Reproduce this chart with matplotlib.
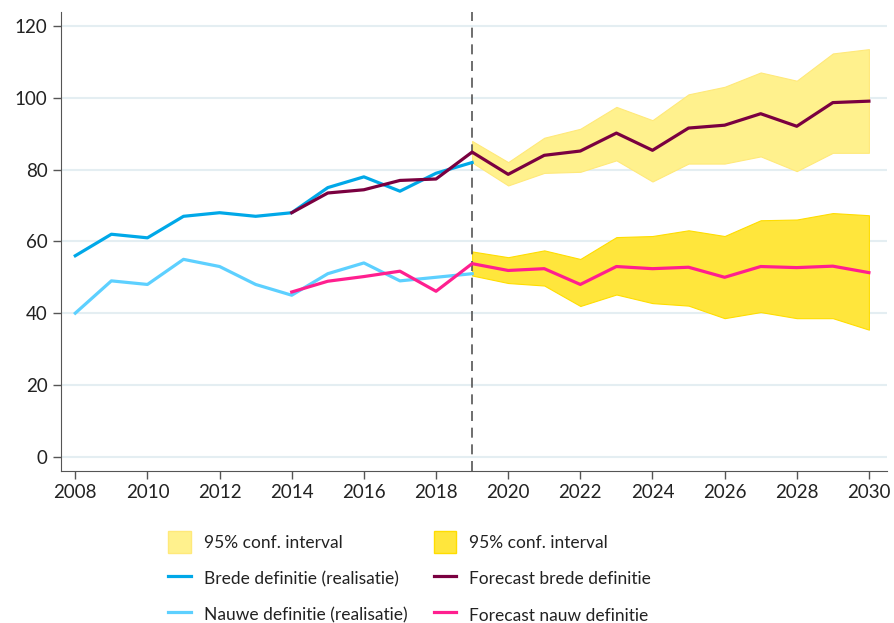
import matplotlib.pyplot as plt
from matplotlib.patches import Patch
from matplotlib.lines import Line2D

plt.rcParams['font.family'] = ['Lato', 'DejaVu Sans']

# Realisatie
jaren_real = list(range(2008, 2020))
brede_real = [56, 62, 61, 67, 68, 67, 68, 75, 78, 74, 79, 82]
nauw_real = [40, 49, 48, 55, 53, 48, 45, 51, 54, 49, 50, 51]

# Forecast
jaren_fc = list(range(2014, 2031))
brede_fc = [68, 73.5, 74.4, 77, 77.4, 84.9, 78.7, 84, 85.2, 90.2, 85.4, 91.6, 92.4, 95.6, 92.1, 98.7, 99.1]
nauw_fc = [45.9, 48.9, 50.2, 51.7, 46.1, 53.8, 51.9, 52.4, 48, 53, 52.4, 52.8, 50, 53, 52.7, 53.1, 51.3]

# 95% betrouwbaarheidsintervallen
jaren_ci = list(range(2019, 2031))
brede_hoog = [88, 82.1, 88.9, 91.4, 97.5, 93.8, 101, 103.1, 107.1, 104.8, 112.4, 113.6]
brede_laag = [82, 75.6, 79.1, 79.4, 82.6, 76.7, 81.7, 81.7, 83.7, 79.6, 84.7, 84.7]
nauw_hoog = [57.2, 55.6, 57.5, 55.1, 61.2, 61.5, 63.1, 61.5, 65.9, 66.1, 67.9, 67.3]
nauw_laag = [50.5, 48.4, 47.7, 42, 45.2, 42.8, 42.1, 38.6, 40.3, 38.6, 38.6, 35.4]

c_blauw = '#00a8e8'
c_lichtblauw = '#5dd0ff'
c_bordeaux = '#7a0040'
c_roze = '#ff1f8f'
c_geel_licht = '#fff18d'
c_geel = '#ffe63c'

fig = plt.figure(figsize=(8.95, 6.23), dpi=100)
ax = fig.add_axes([0.068, 0.244, 0.923, 0.737])

ax.fill_between(jaren_ci, brede_laag, brede_hoog, color=c_geel_licht, lw=0.8, edgecolor='#ffe97a', zorder=1)
ax.fill_between(jaren_ci, nauw_laag, nauw_hoog, color=c_geel, lw=0.8, edgecolor='#ffdd00', zorder=1)

ax.plot(jaren_real, brede_real, color=c_blauw, lw=2.3, zorder=3)
ax.plot(jaren_real, nauw_real, color=c_lichtblauw, lw=2.3, zorder=3)
ax.plot(jaren_fc, brede_fc, color=c_bordeaux, lw=2.3, zorder=4)
ax.plot(jaren_fc, nauw_fc, color=c_roze, lw=2.3, zorder=4)

ax.axvline(2019, color='#555555', lw=1.2, ls=(0, (6, 4)), zorder=2)

ax.set_xlim(2007.6, 2030.5)
ax.set_ylim(-4, 124)
ax.set_xticks(range(2008, 2031, 2))
ax.set_yticks(range(0, 121, 20))
ax.yaxis.grid(True, color='#e4eef2', lw=1.5)
ax.set_axisbelow(True)
for s in ['top', 'right']:
    ax.spines[s].set_visible(False)
for s in ['left', 'bottom']:
    ax.spines[s].set_color('#555555')
ax.tick_params(colors='#555555', labelcolor='#222222', labelsize=13.5, length=6, width=1)

handles = [
    Patch(facecolor=c_geel_licht, edgecolor='#ffe97a'),
    Line2D([], [], color=c_blauw, lw=2.3),
    Line2D([], [], color=c_lichtblauw, lw=2.3),
    Patch(facecolor=c_geel, edgecolor='#ffdd00'),
    Line2D([], [], color=c_bordeaux, lw=2.3),
    Line2D([], [], color=c_roze, lw=2.3),
]
labels = ['95% conf. interval', 'Brede definitie (realisatie)', 'Nauwe definitie (realisatie)',
          '95% conf. interval', 'Forecast brede definitie', 'Forecast nauw definitie']
fig.legend(handles, labels, ncol=2, loc='upper left', bbox_to_anchor=(0.188, 0.148),
           frameon=False, fontsize=12.5, handlelength=1.3, handleheight=1.6,
           labelspacing=0.82, columnspacing=1.5, handletextpad=0.75,
           labelcolor='#222222', borderaxespad=0, borderpad=0)

fig.savefig('out.png', dpi=100)
